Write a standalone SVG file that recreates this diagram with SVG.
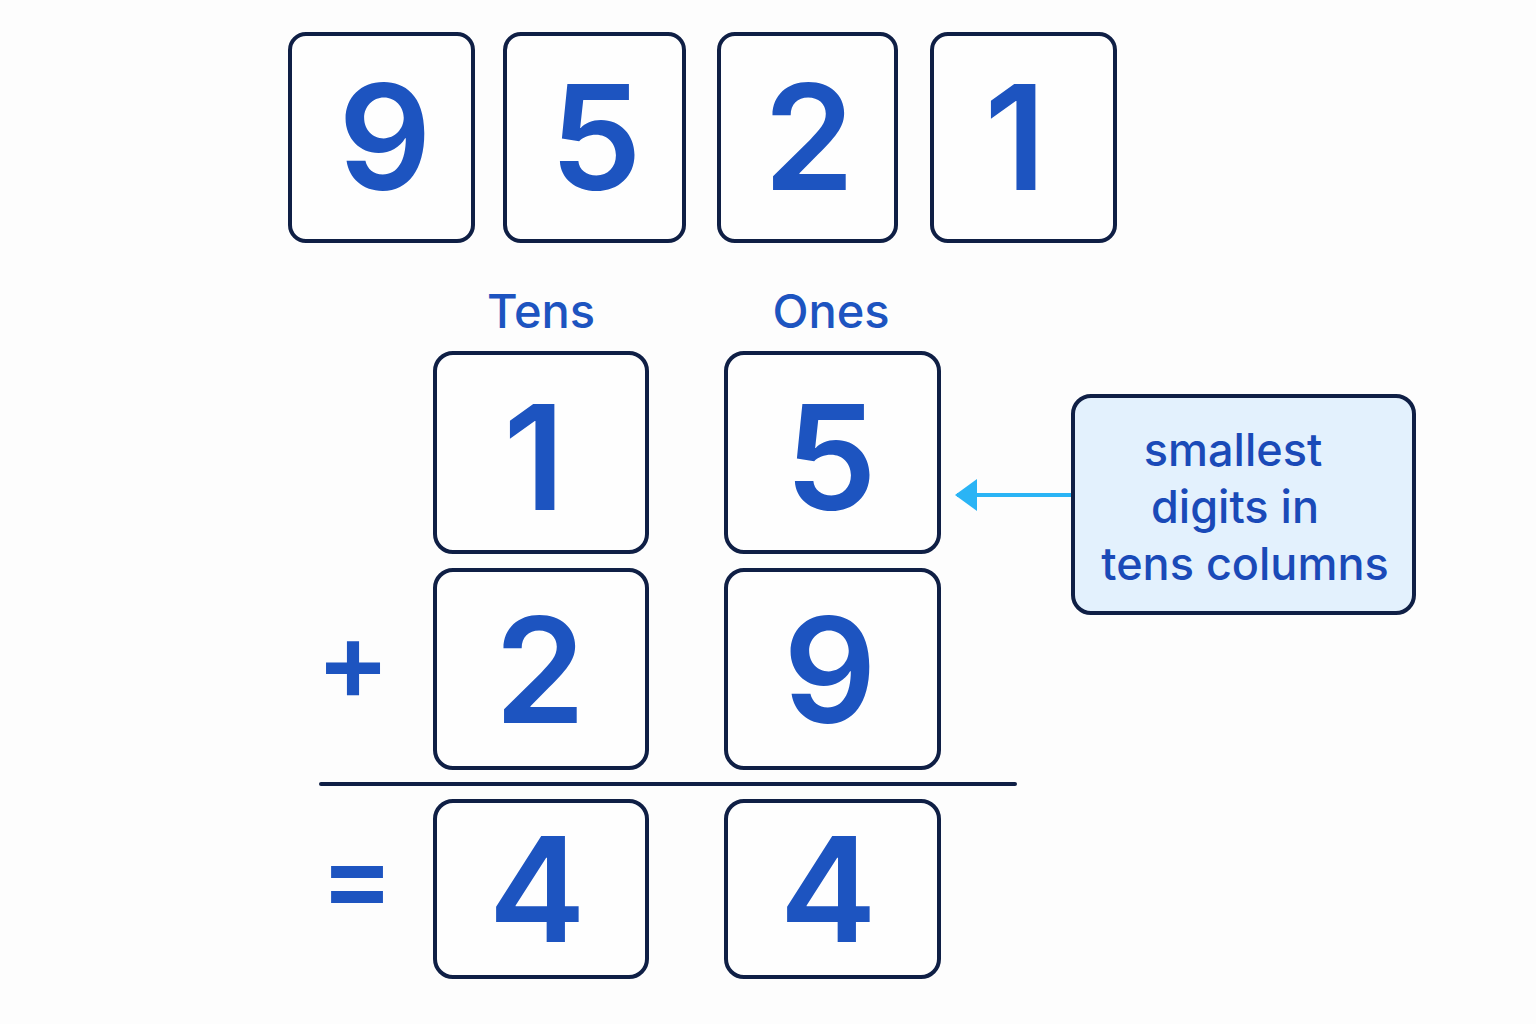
<svg xmlns="http://www.w3.org/2000/svg" width="1536" height="1024" viewBox="0 0 1536 1024">
<defs>
<style>
.box{fill:#fefefe;stroke:#0f1f45;stroke-width:4}
.dig{font-family:Inter,"Liberation Sans",Arial,sans-serif;font-weight:600;font-size:146px;fill:#1d54c0;text-anchor:middle}
.lbl{font-family:Inter,"Liberation Sans",sans-serif;font-weight:500;font-size:47px;fill:#1d54c0;text-anchor:middle}
.op{font-family:Inter,"Liberation Sans",Arial,sans-serif;font-weight:600;font-size:110px;fill:#1d54c0;text-anchor:middle}
.call{font-family:Inter,"Liberation Sans",sans-serif;font-weight:500;font-size:45px;fill:#1a4ab8;text-anchor:middle}
</style>
<marker id="ah" markerWidth="22" markerHeight="32" refX="20" refY="16" orient="auto" markerUnits="userSpaceOnUse" viewBox="0 0 22 32">
<path d="M22,16 L0,0 L0,32 Z" fill="#2ab4f5"/>
</marker>
</defs>
<rect width="1536" height="1024" fill="#fdfdfd"/>
<g id="top-9"><rect class="box" x="290" y="34" width="183" height="207" rx="16"/><text class="dig" x="385" y="190">9</text></g>
<g id="top-5"><rect class="box" x="505" y="34" width="179" height="207" rx="16"/><text class="dig" x="596" y="190">5</text></g>
<g id="top-2"><rect class="box" x="719" y="34" width="177" height="207" rx="16"/><text class="dig" x="809" y="190">2</text></g>
<g id="top-1"><rect class="box" x="932" y="34" width="183" height="207" rx="16"/><text class="dig" x="1015" y="190">1</text></g>
<g id="label-tens"><text class="lbl" x="541" y="328">Tens</text></g>
<g id="label-ones"><text class="lbl" x="831" y="328">Ones</text></g>
<g id="r1-tens"><rect class="box" x="435" y="353" width="212" height="199" rx="18"/><text class="dig" x="534" y="510">1</text></g>
<g id="r1-ones"><rect class="box" x="726" y="353" width="213" height="199" rx="18"/><text class="dig" x="831" y="510">5</text></g>
<g id="r2-tens"><rect class="box" x="435" y="570" width="212" height="198" rx="18"/><text class="dig" x="540" y="723">2</text></g>
<g id="r2-ones"><rect class="box" x="726" y="570" width="213" height="198" rx="18"/><text class="dig" x="830" y="723">9</text></g>
<g id="plus"><text class="op" x="353" y="700">+</text></g>
<g id="sum-line"><line x1="321" y1="784" x2="1015" y2="784" stroke="#0f1f45" stroke-width="4" stroke-linecap="round"/></g>
<g id="equals"><text class="op" x="357" y="916">=</text></g>
<g id="r3-tens"><rect class="box" x="435" y="801" width="212" height="176" rx="18"/><text class="dig" x="537" y="942">4</text></g>
<g id="r3-ones"><rect class="box" x="726" y="801" width="213" height="176" rx="18"/><text class="dig" x="828" y="942">4</text></g>
<g id="callout"><rect x="1073" y="396" width="341" height="217" rx="18" fill="#e3f1fd" stroke="#0f1f45" stroke-width="4"/>
<text class="call" x="1233" y="466">smallest</text>
<text class="call" x="1235" y="523">digits in</text>
<text class="call" x="1245" y="580">tens columns</text></g>
<g id="connectors"><line x1="1071" y1="495" x2="957" y2="495" stroke="#2ab4f5" stroke-width="4" marker-end="url(#ah)"/></g>
</svg>
